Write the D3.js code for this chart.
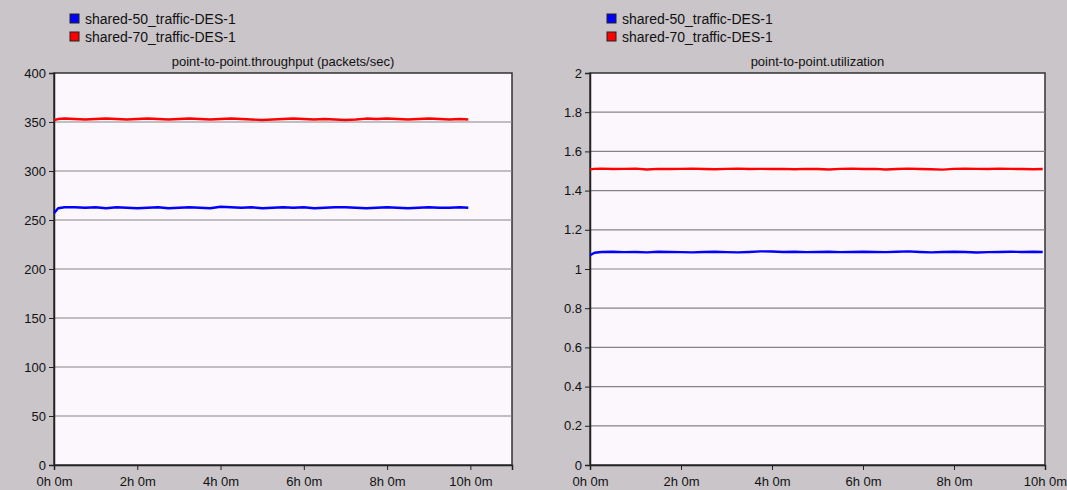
<!DOCTYPE html>
<html>
<head>
<meta charset="utf-8">
<script src="https://cdn.jsdelivr.net/npm/d3@7"></script>
<style>
  body { margin: 0; background: #c9c5c9; }
  svg { display: block; font-family: "Liberation Sans", Arial, sans-serif; }
</style>
</head>
<body>
<div id="chart"></div>
<script>
// ---- DATA ----
const seriesNames = ["shared-50_traffic-DES-1", "shared-70_traffic-DES-1"];
const seriesColors = ["#0000ff", "#ff0000"];

// time in hours
const hours = [0, 0.1, 0.25, 0.5, 0.75, 1, 1.25, 1.5, 1.75, 2, 2.25, 2.5, 2.75, 3, 3.25, 3.5, 3.75, 4,
  4.25, 4.5, 4.75, 5, 5.25, 5.5, 5.75, 6, 6.25, 6.5, 6.75, 7, 7.25, 7.5, 7.75, 8, 8.25, 8.5, 8.75,
  9, 9.25, 9.5, 9.75, 9.95];

const throughput50 = [257, 262, 263, 263, 262.5, 263, 262, 263, 262.5, 262, 262.5, 263, 262, 262.5,
  263, 262.5, 262, 263.5, 263, 262.5, 263, 262, 262.5, 263, 262.5, 263, 262, 262.5, 263, 263,
  262.5, 262, 262.5, 263, 262.5, 262, 262.5, 263, 262.5, 262.5, 263, 262.5];
const throughput70 = [352, 353, 353.5, 353, 352.5, 353, 353.5, 353, 352.5, 353, 353.5, 353, 352.5,
  353, 353.5, 353, 352.5, 353, 353.5, 353, 352.5, 352, 352.5, 353, 353.5, 353, 352.5, 353, 352.5,
  352, 352.5, 353.5, 353, 353.5, 353, 352.5, 353, 353.5, 353, 352.5, 353, 352.5];

const util50 = [1.07, 1.083, 1.087, 1.088, 1.086, 1.087, 1.085, 1.088, 1.087, 1.086, 1.085, 1.087,
  1.088, 1.086, 1.085, 1.087, 1.09, 1.089, 1.087, 1.088, 1.086, 1.087, 1.088, 1.086, 1.087, 1.088,
  1.087, 1.086, 1.088, 1.09, 1.087, 1.085, 1.087, 1.088, 1.087, 1.084, 1.086, 1.087, 1.088, 1.087,
  1.088, 1.087];
const util70 = [1.508, 1.511, 1.512, 1.51, 1.511, 1.512, 1.508, 1.511, 1.51, 1.511, 1.512, 1.51,
  1.509, 1.511, 1.512, 1.51, 1.511, 1.51, 1.511, 1.509, 1.511, 1.51, 1.508, 1.511, 1.512, 1.51,
  1.511, 1.508, 1.51, 1.512, 1.51, 1.509, 1.507, 1.511, 1.512, 1.511, 1.51, 1.512, 1.511, 1.51,
  1.509, 1.51];

const throughputTicks = [0, 50, 100, 150, 200, 250, 300, 350, 400];
const utilTicks = [0, 0.2, 0.4, 0.6, 0.8, 1, 1.2, 1.4, 1.6, 1.8, 2];
const hourTicks = [0, 2, 4, 6, 8, 10];

const width = 1067;
const height = 490;

const svg = d3.select("#chart")
  .append("svg")
  .attr("width", width)
  .attr("height", height);

svg.append("rect")
  .attr("width", width)
  .attr("height", height)
  .attr("fill", "#c9c5c9");

function drawPanel(opts) {
  const g = svg.append("g");
  const x = d3.scaleLinear().domain(opts.xDomain).range([opts.left, opts.right]);
  const y = d3.scaleLinear().domain(opts.yDomain).range([465, 73]);

  // ---- LEGEND ----
  seriesNames.forEach((name, i) => {
    g.append("rect")
      .attr("x", opts.legendX)
      .attr("y", 14 + i * 18)
      .attr("width", 9)
      .attr("height", 9)
      .attr("fill", seriesColors[i])
      .attr("stroke", "#222")
      .attr("stroke-width", 1);
    g.append("text")
      .attr("x", opts.legendX + 15)
      .attr("y", 23.5 + i * 18)
      .attr("font-size", 14)
      .attr("fill", "#111")
      .text(name);
  });

  // ---- PLOT AREA ----
  g.append("rect")
    .attr("x", opts.left)
    .attr("y", y(opts.yDomain[1]))
    .attr("width", opts.right - opts.left)
    .attr("height", y(opts.yDomain[0]) - y(opts.yDomain[1]))
    .attr("fill", "#fcf7fc")
    .attr("stroke", "#333")
    .attr("stroke-width", 1.5);

  // ---- TITLE ----
  g.append("text")
    .attr("x", (opts.left + opts.right) / 2)
    .attr("y", 66)
    .attr("text-anchor", "middle")
    .attr("font-size", 13)
    .attr("fill", "#111")
    .text(opts.title);

  // ---- GRID ----
  g.selectAll("line.grid")
    .data(opts.yTicks.slice(1, -1))
    .enter()
    .append("line")
    .attr("class", "grid")
    .attr("x1", opts.left)
    .attr("x2", opts.right)
    .attr("y1", d => y(d))
    .attr("y2", d => y(d))
    .attr("stroke", "#858385")
    .attr("stroke-width", 1.2);

  // ---- AXES ----
  const yAxis = g.append("g")
    .attr("transform", `translate(${opts.left},0)`)
    .call(d3.axisLeft(y).tickValues(opts.yTicks).tickSize(5).tickPadding(3).tickFormat(d3.format("")));
  const xAxis = g.append("g")
    .attr("transform", `translate(0,${y(opts.yDomain[0])})`)
    .call(d3.axisBottom(x).tickValues(hourTicks).tickSize(5).tickPadding(7).tickFormat(d => d + "h 0m"));

  [yAxis, xAxis].forEach(a => {
    a.select(".domain").attr("stroke", "#222").attr("stroke-width", 1.5);
    a.selectAll(".tick line").attr("stroke", "#222");
    a.selectAll(".tick text")
      .attr("font-size", 13)
      .attr("fill", "#111")
      .attr("font-family", "\"Liberation Sans\", Arial, sans-serif");
  });

  // ---- LINES ----
  const line = d3.line()
    .x((d, i) => x(hours[i]))
    .y(d => y(d));

  opts.series.forEach((values, i) => {
    g.append("path")
      .datum(values)
      .attr("fill", "none")
      .attr("stroke", seriesColors[i])
      .attr("stroke-width", 2.4)
      .attr("stroke-linejoin", "round")
      .attr("d", line);
  });
}

drawPanel({
  left: 54, right: 512, xDomain: [0, 11],
  yDomain: [0, 400], yTicks: throughputTicks,
  legendX: 70,
  title: "point-to-point.throughput (packets/sec)",
  series: [throughput50, throughput70]
});

drawPanel({
  left: 590, right: 1045, xDomain: [0, 10],
  yDomain: [0, 2], yTicks: utilTicks,
  legendX: 607,
  title: "point-to-point.utilization",
  series: [util50, util70]
});
</script>
</body>
</html>
